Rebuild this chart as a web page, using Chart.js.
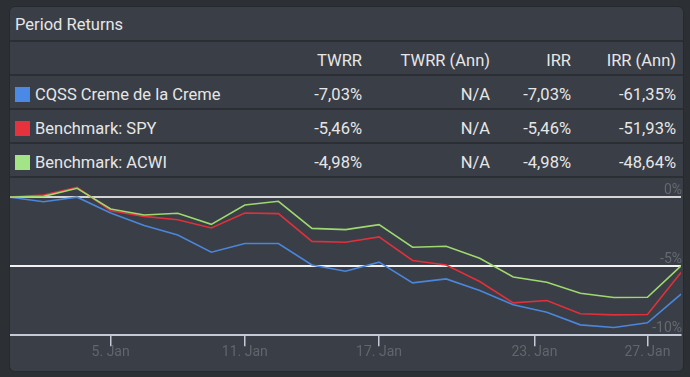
<!DOCTYPE html>
<html>
<head>
<meta charset="utf-8">
<script src="https://cdn.jsdelivr.net/npm/chart.js@4"></script>
<style>
    html, body { margin: 0; padding: 0; background: #2c2f33; width: 690px; height: 377px; overflow: hidden; }
    body { font-family: Roboto, "Liberation Sans", sans-serif; color: #e6e6e6; }
    .panel {
        position: absolute; left: 9px; top: 6px; width: 673px; height: 364px;
        background: #3a3e46; border: 1px solid #26292d; border-radius: 6px; overflow: hidden;
    }
    .title { height: 33px; line-height: 35px; padding-left: 5px; font-size: 16.5px; border-bottom: 2px solid #2b2e33; }
    table { border-collapse: collapse; width: 100%; font-size: 16.5px; }
    td, th { height: 27px; line-height: 27px; padding: 5px 0 0 0; border-bottom: 2px solid #2b2e33; font-weight: normal; text-align: right; }
    td.name, th.name { text-align: left; padding-left: 5px; }
    .swatch { display: inline-block; width: 15px; height: 15px; vertical-align: -2px; margin-right: 5px; }
    #chart-wrap { position: relative; width: 673px; height: 202px; margin-top: -9px; }
</style>
</head>
<body>
<div class="panel">
    <div class="title">Period Returns</div>
    <table id="returns-table">
        <thead>
            <tr><th class="name"></th><th style="width:80px">TWRR</th><th style="width:128px">TWRR (Ann)</th><th style="width:81px">IRR</th><th style="width:105px;padding-right:7px">IRR (Ann)</th></tr>
        </thead>
        <tbody></tbody>
    </table>
    <div id="chart-wrap"><canvas id="returnsChart"></canvas></div>
</div>

<script>
// Series names, colours and table values
const seriesNames = ["CQSS Creme de la Creme", "Benchmark: SPY", "Benchmark: ACWI"];
const seriesColors = ["#4a89e6", "#e5323d", "#a3e486"];
const twrr = ["-7,03%", "-5,46%", "-4,98%"];
const twrrAnn = ["N/A", "N/A", "N/A"];
const irr = ["-7,03%", "-5,46%", "-4,98%"];
const irrAnn = ["-61,35%", "-51,93%", "-48,64%"];

// Cumulative returns (%) per trading day
const cqss = [0, -0.33, 0.0, -1.15, -2.06, -2.74, -3.99, -3.36, -3.36, -4.91, -5.37, -4.71, -6.21, -5.92, -6.77, -7.8, -8.33, -9.25, -9.44, -9.1, -7.03];
const spy = [0, 0.16, 0.71, -0.98, -1.39, -1.63, -2.23, -1.15, -1.19, -3.2, -3.27, -2.88, -4.59, -4.91, -6.11, -7.66, -7.49, -8.45, -8.53, -8.5, -5.46];
const acwi = [0, 0.06, 0.64, -0.86, -1.29, -1.17, -1.97, -0.57, -0.3, -2.26, -2.35, -1.99, -3.63, -3.56, -4.43, -5.78, -6.16, -6.96, -7.27, -7.25, -4.98];

// x-axis date ticks (position on the ordinal axis) and y-axis ticks
const xTickPos = [3, 7, 11, 15.63, 19];
const xTickLabels = ["5. Jan", "11. Jan", "17. Jan", "23. Jan", "27. Jan"];
const yTicks = [-10, -5, 0];

// ✅ Build the returns table
function buildTable() {
    const tbody = document.querySelector("#returns-table tbody");
    seriesNames.forEach((name, i) => {
        const tr = document.createElement("tr");
        tr.innerHTML =
            `<td class="name"><span class="swatch" style="background:${seriesColors[i]}"></span>${name}</td>` +
            `<td>${twrr[i]}</td><td>${twrrAnn[i]}</td><td>${irr[i]}</td><td style="padding-right:7px">${irrAnn[i]}</td>`;
        tbody.appendChild(tr);
    });
}

// ✅ Draw the line chart
function buildChart() {
    const ctx = document.getElementById("returnsChart").getContext("2d");
    const toPoints = arr => arr.map((v, i) => ({ x: i, y: v }));
    const lineColors = ["#4a86dc", "#e0303b", "#9fd870"];

    new Chart(ctx, {
        type: "line",
        data: {
            datasets: [cqss, spy, acwi].map((arr, i) => ({
                label: seriesNames[i],
                data: toPoints(arr),
                borderColor: lineColors[i],
                borderWidth: 1.6,
                pointRadius: 0,
                tension: 0
            })).reverse()
        },
        options: {
            responsive: true,
            maintainAspectRatio: false,
            animation: false,
            layout: { padding: { top: 0, bottom: 12, left: 0, right: 0 } },
            plugins: { legend: { display: false }, tooltip: { enabled: false } },
            scales: {
                x: {
                    type: "linear",
                    min: 0,
                    max: cqss.length - 1,
                    afterBuildTicks: axis => { axis.ticks = xTickPos.map(v => ({ value: v })); },
                    grid: { drawOnChartArea: false, drawTicks: true, tickLength: 11, color: "#c3c9d6", lineWidth: 1.5 },
                    border: { display: true, color: "#c3c9d6", width: 2 },
                    ticks: {
                        padding: -2,
                        color: "#62666c",
                        font: { family: "Roboto", size: 14 },
                        maxRotation: 0,
                        callback: v => xTickLabels[xTickPos.indexOf(v)]
                    }
                },
                y: {
                    position: "right",
                    min: -10,
                    max: 1.36,
                    afterBuildTicks: axis => { axis.ticks = yTicks.map(v => ({ value: v })); },
                    grid: {
                        drawTicks: false,
                        lineWidth: 2,
                        color: c => c.tick.value === -10 ? "rgba(0,0,0,0)" : (c.tick.value === 0 ? "#d4d4d4" : "#f2f2f2")
                    },
                    border: { display: false },
                    ticks: {
                        mirror: true,
                        padding: 1,
                        labelOffset: -7,
                        color: "#666a70",
                        font: { family: "Roboto", size: 14 },
                        callback: v => v + "%"
                    }
                }
            }
        }
    });
}

document.addEventListener("DOMContentLoaded", function () {
    buildTable();
    buildChart();
});
</script>
</body>
</html>
